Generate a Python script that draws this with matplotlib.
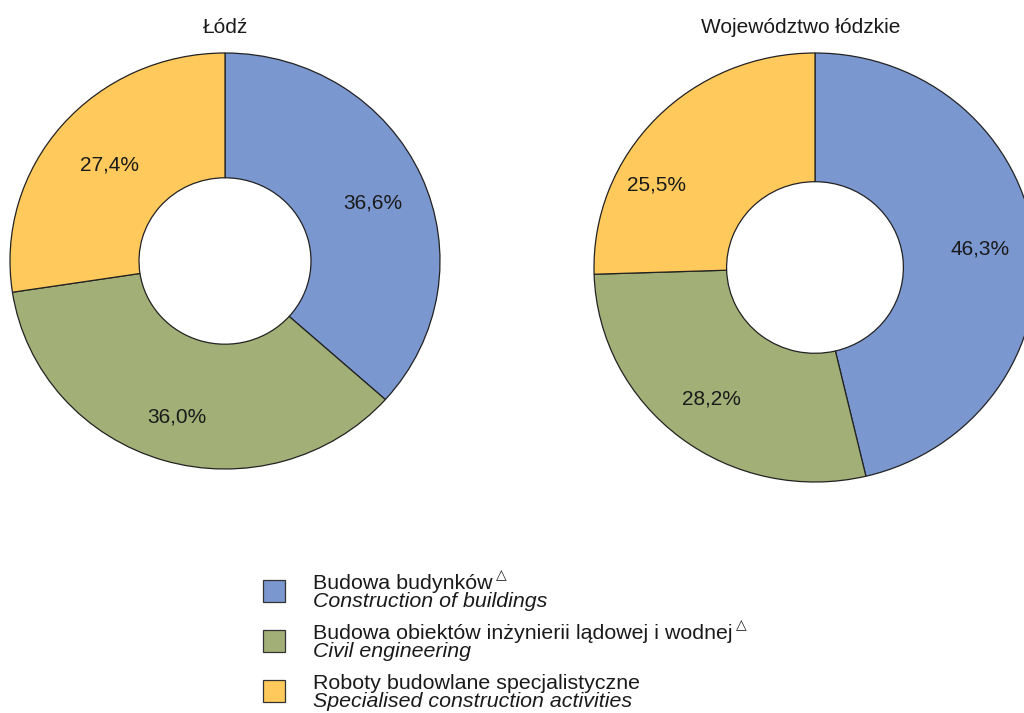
import matplotlib
matplotlib.use("Agg")
import numpy as np
import matplotlib.pyplot as plt
from matplotlib.patches import Rectangle

plt.rcParams['font.family'] = ['Liberation Sans', 'DejaVu Sans']

# dane
kategorie_pl = ["Budowa budynków", "Budowa obiektów inżynierii lądowej i wodnej",
                "Roboty budowlane specjalistyczne"]
kategorie_en = ["Construction of buildings", "Civil engineering",
                "Specialised construction activities"]
trojkat = [True, True, False]
lodz = [36.6, 36.0, 27.4]
wojewodztwo = [46.3, 28.2, 25.5]
tytuly = ["Łódź", "Województwo łódzkie"]
kolory = ["#7b97d0", "#a2b077", "#ffc95c"]

W, H = 1024, 713
fig = plt.figure(figsize=(W / 100, H / 100), dpi=100)


def px(x, y):
    return x / W, 1 - y / H


def donut(rect, wartosci, odl, kat):
    ax = fig.add_axes(rect)
    wedges, _, autot = ax.pie(
        wartosci, colors=kolory, startangle=90, counterclock=False,
        wedgeprops=dict(width=0.6, edgecolor="#222222", linewidth=0.9),
        autopct=lambda p: f"{p:.1f}".replace(".", ",") + "%",
        pctdistance=0.75, textprops=dict(fontsize=15, color="#1a1a1a"))
    # przesuniecie etykiet
    for w, t, d, k in zip(wedges, autot, odl, kat):
        a = np.deg2rad((w.theta1 + w.theta2) / 2 + k)
        t.set_position((d * np.cos(a), d * np.sin(a)))
    ax.set_xlim(-1, 1)
    ax.set_ylim(-1, 1)
    ax.set_aspect("auto")
    ax.axis("off")
    return ax


donut([10 / W, (H - 469) / H, 430 / W, 416 / H], lodz, [0.74, 0.78, 0.71], [-2, 0, 0])
donut([594 / W, (H - 482) / H, 442 / W, 429 / H], wojewodztwo, [0.75, 0.77, 0.815], [0, 0, 16])

fig.text(*px(225, 33), tytuly[0], fontsize=15, ha="center", va="baseline", color="#1a1a1a")
fig.text(*px(801, 33), tytuly[1], fontsize=15, ha="center", va="baseline", color="#1a1a1a")

# legenda
r = fig.canvas.get_renderer()
for i in range(3):
    y0 = 580 + 50 * i
    fig.patches.append(Rectangle(px(263, y0 + 22), 22 / W, 22 / H, transform=fig.transFigure,
                                 facecolor=kolory[i], edgecolor="#333333", linewidth=0.9))
    t = fig.text(*px(313, y0 + 9), kategorie_pl[i], fontsize=15.4, va="baseline", color="#1a1a1a")
    fig.text(*px(313, y0 + 27), kategorie_en[i], fontsize=15.4, va="baseline",
             style="italic", color="#1a1a1a")
    if trojkat[i]:
        bb = t.get_window_extent(r)
        fig.text(bb.x1 / W + 3 / W, px(0, y0 - 1)[1], "△", fontsize=10,
                 family=["DejaVu Sans"], va="baseline", color="#1a1a1a")

fig.savefig("out.png", dpi=100, facecolor="white")
